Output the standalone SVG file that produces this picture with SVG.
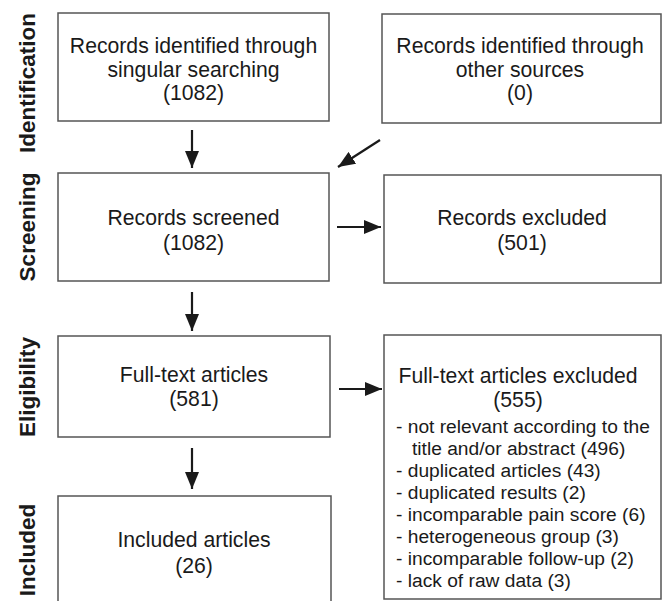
<svg xmlns="http://www.w3.org/2000/svg" width="665" height="601" viewBox="0 0 665 601">
<defs>
<style>
.box{fill:#fff;stroke:#555;stroke-width:1.5}
.t{font-family:"Liberation Sans",Arial,sans-serif;font-size:21.2px;fill:#1a1a1a;text-anchor:middle}
.l{font-family:"Liberation Sans",Arial,sans-serif;font-size:19.2px;fill:#1a1a1a}
.stage{font-family:"Liberation Sans",Arial,sans-serif;font-size:22.5px;font-weight:bold;fill:#1a1a1a;text-anchor:middle}
.c{stroke:#1a1a1a;stroke-width:2.2;fill:none;marker-end:url(#ah)}
</style>
<marker id="ah" markerUnits="userSpaceOnUse" markerWidth="17" markerHeight="14" refX="17" refY="7" orient="auto">
<path d="M0,0 L17,7 L0,14 z" fill="#1a1a1a"/>
</marker>
</defs>
<rect width="665" height="601" fill="#fff"/>
<g id="stages">
<text class="stage" transform="translate(35,83) rotate(-90)">Identification</text>
<text class="stage" transform="translate(35,227) rotate(-90)">Screening</text>
<text class="stage" transform="translate(35,387) rotate(-90)">Eligibility</text>
<text class="stage" transform="translate(35,550) rotate(-90)">Included</text>
</g>
<g id="n1">
<rect class="box" x="58" y="13" width="271" height="108"/>
<text class="t" x="193.5" y="53">Records identified through</text>
<text class="t" x="193.5" y="77">singular searching</text>
<text class="t" x="193.5" y="100">(1082)</text>
</g>
<g id="n2">
<rect class="box" x="382" y="14" width="279" height="109"/>
<text class="t" x="520" y="53">Records identified through</text>
<text class="t" x="520" y="77">other sources</text>
<text class="t" x="520" y="100">(0)</text>
</g>
<g id="n3">
<rect class="box" x="58" y="173" width="271" height="108"/>
<text class="t" x="193.5" y="225">Records screened</text>
<text class="t" x="193.5" y="250">(1082)</text>
</g>
<g id="n4">
<rect class="box" x="384" y="175" width="277" height="108"/>
<text class="t" x="522" y="225">Records excluded</text>
<text class="t" x="522" y="250">(501)</text>
</g>
<g id="n5">
<rect class="box" x="58" y="336" width="272" height="101"/>
<text class="t" x="194" y="382">Full-text articles</text>
<text class="t" x="194" y="406">(581)</text>
</g>
<g id="n6">
<rect class="box" x="384" y="335" width="277" height="264"/>
<text class="t" x="518" y="383">Full-text articles excluded</text>
<text class="t" x="518" y="407">(555)</text>
<text class="l" x="396" y="433">- not relevant according to the</text>
<text class="l" x="412" y="455">title and/or abstract (496)</text>
<text class="l" x="396" y="477">- duplicated articles (43)</text>
<text class="l" x="396" y="499">- duplicated results (2)</text>
<text class="l" x="396" y="521">- incomparable pain score (6)</text>
<text class="l" x="396" y="543">- heterogeneous group (3)</text>
<text class="l" x="396" y="565">- incomparable follow-up (2)</text>
<text class="l" x="396" y="587">- lack of raw data (3)</text>
</g>
<g id="n7">
<rect class="box" x="58" y="496" width="273" height="115"/>
<text class="t" x="194" y="547">Included articles</text>
<text class="t" x="194" y="573">(26)</text>
</g>
<g id="connectors">
<line class="c" x1="192" y1="130" x2="192" y2="168"/>
<line class="c" x1="380" y1="140" x2="338" y2="167"/>
<line class="c" x1="337" y1="227" x2="381" y2="227"/>
<line class="c" x1="192" y1="292" x2="192" y2="331"/>
<line class="c" x1="339" y1="389" x2="382" y2="389"/>
<line class="c" x1="192" y1="448" x2="192" y2="489"/>
</g>
</svg>
